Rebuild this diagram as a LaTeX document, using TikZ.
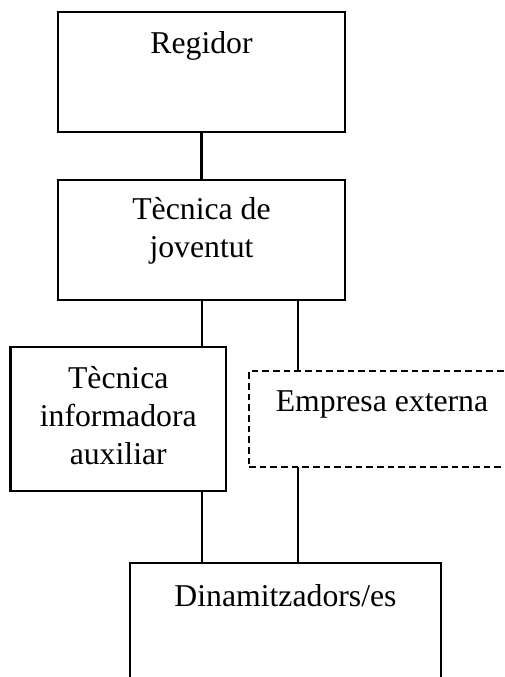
\documentclass[tikz,border=0pt]{standalone}
\usepackage{fontspec}
\setmainfont{Liberation Serif}
\usepackage{tikz}
\usetikzlibrary{positioning}

\begin{document}
\begin{tikzpicture}[x=0.75pt,y=-0.75pt,line width=1.6pt,
        box/.style={draw,rectangle,inner sep=0pt,outer sep=0pt},
        txt/.style={inner sep=0pt,align=center,font=\fontsize{23.8}{28.5}\selectfont}]
        \useasboundingbox (0,0) rectangle (505,677);

        % draw the boxes
        \node[box,minimum width=215.25pt,minimum height=90pt] (reg) at (201.5,72) {};
        \node[box,minimum width=215.25pt,minimum height=90pt] (jov) at (201.5,240) {};
        \node[box,minimum width=161.6pt,minimum height=108pt] (inf) at (118.25,419) {};
        \node[box,dashed,dash pattern=on 5pt off 3pt,minimum width=199.5pt,minimum height=72pt] (emp) at (382,419) {};
        \node[box,minimum width=233.25pt,minimum height=90pt] (din) at (285.5,623) {};

        % draw the texts near the top of each box
        \node[txt,below=13.5pt of reg.north] (regT) {Regidor};
        \node[txt,below=12pt of jov.north] (jovT) {Tècnica de\\joventut};
        \node[txt,below=13.5pt of inf.north] (infT) {Tècnica\\informadora\\auxiliar};
        \node[txt,below=14pt of emp.north] (empT) {Empresa externa};
        \node[txt,below=15pt of din.north] (dinT) {Dinamitzadors/es};

        % the two columns of the lines
        \coordinate (colA) at (202,0);
        \coordinate (colB) at (298,0);

        % draw the lines
        \draw (reg.south) -- (jov.north);
        \draw (jov.south -| colA) -- (inf.north -| colA);
        \draw (jov.south -| colB) -- (emp.north -| colB);
        \draw (inf.south -| colA) -- (din.north -| colA);
        \draw (emp.south -| colB) -- (din.north -| colB);
\end{tikzpicture}
\end{document}
